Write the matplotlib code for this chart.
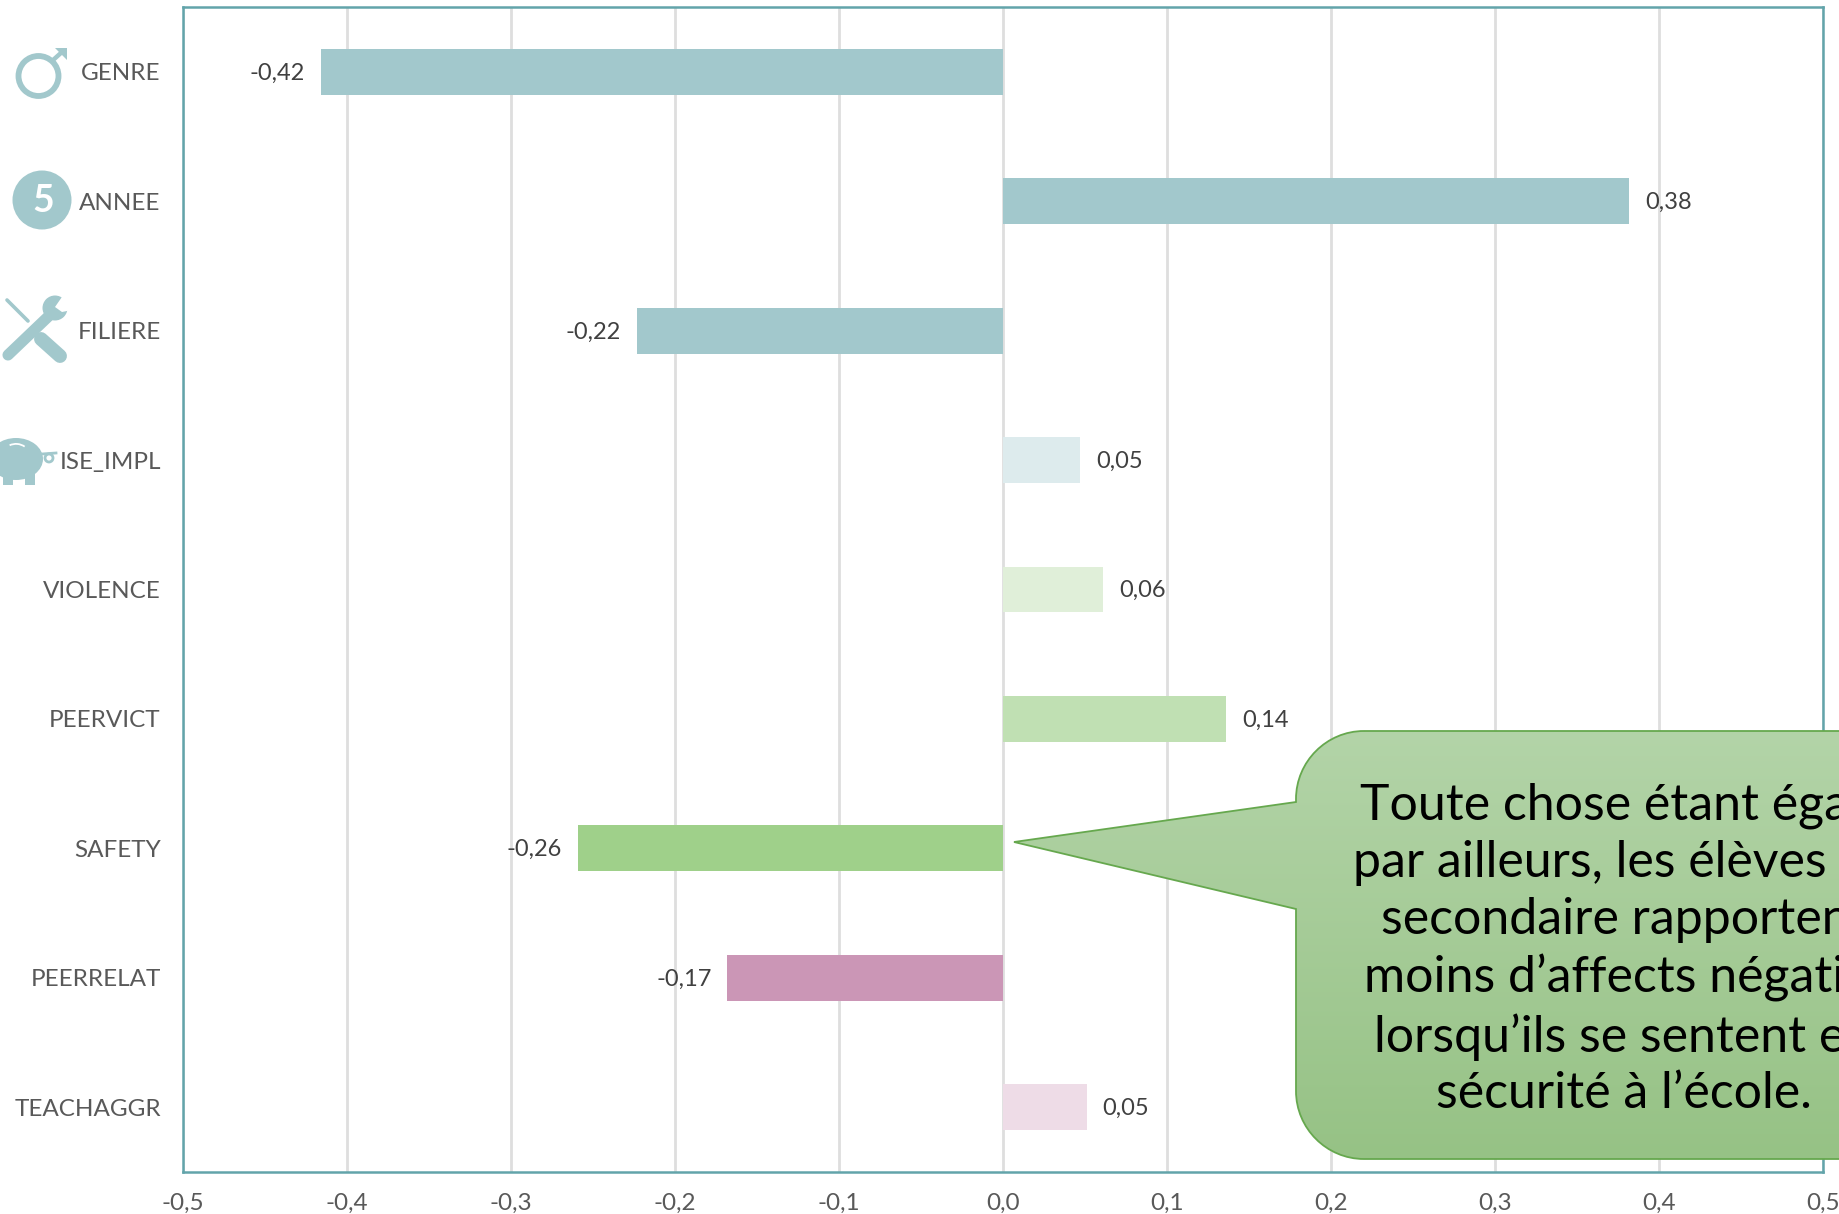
import numpy as np
import matplotlib
matplotlib.use("Agg")
import matplotlib.pyplot as plt
from matplotlib.patches import Circle, Ellipse, Polygon, PathPatch, Rectangle, Wedge
from matplotlib.path import Path

plt.rcParams["font.family"] = ["Lato", "DejaVu Sans"]

# data
categories = ["GENRE", "ANNEE", "FILIERE", "ISE_IMPL", "VIOLENCE",
              "PEERVICT", "SAFETY", "PEERRELAT", "TEACHAGGR"]
values = [-0.416, 0.382, -0.223, 0.047, 0.061, 0.136, -0.259, -0.168, 0.051]
value_labels = ["-0,42", "0,38", "-0,22", "0,05", "0,06", "0,14", "-0,26", "-0,17", "0,05"]
colors = ["#A2C8CC", "#A2C8CC", "#A2C8CC", "#DDEBED", "#E0EFD9",
          "#C0E0B3", "#9FD08A", "#CB96B6", "#EEDCE7"]
x_ticks = [-0.5, -0.4, -0.3, -0.2, -0.1, 0.0, 0.1, 0.2, 0.3, 0.4, 0.5]
x_tick_labels = ["-0,5", "-0,4", "-0,3", "-0,2", "-0,1", "0,0", "0,1", "0,2", "0,3", "0,4", "0,5"]
callout_text = ("Toute chose étant égale\npar ailleurs, les élèves du\nsecondaire rapportent\n"
                "moins d’affects négatifs\nlorsqu’ils se sentent en\nsécurité à l’école.")

W, H = 1839, 1214
ICON = "#A2C8CC"
TXT = "#595959"

fig = plt.figure(figsize=(W / 100, H / 100), dpi=100)
ax = fig.add_axes([183 / W, 1 - 1172 / H, (1823 - 183) / W, (1172 - 7) / H])

# bars
y = np.arange(len(categories))
ax.barh(y, values, height=0.355, color=colors, zorder=3)
ax.set_xlim(-0.5, 0.5)
ax.set_ylim(len(categories) - 0.5, -0.5)
ax.set_yticks(y)
ax.set_yticklabels(categories, fontsize=17.5, color=TXT)
ax.set_xticks(x_ticks)
ax.set_xticklabels(x_tick_labels, fontsize=17.5, color=TXT)
ax.tick_params(axis="both", length=0)
ax.tick_params(axis="y", pad=16)
ax.tick_params(axis="x", pad=15)
ax.grid(axis="x", color="#DEDEDE", linewidth=2, zorder=0)
ax.set_axisbelow(True)
for s in ax.spines.values():
    s.set_color("#62A4AA")
    s.set_linewidth(1.8)

for yi, v, lab in zip(y, values, value_labels):
    off = 0.0098 if v > 0 else -0.0098
    ax.text(v + off, yi + 0.01, lab, ha="left" if v > 0 else "right", va="center",
            fontsize=17, color="#404040", zorder=4)

# overlay in pixel coordinates for the icons and the callout
ov = fig.add_axes([0, 0, 1, 1], facecolor="none")
ov.set_xlim(0, W)
ov.set_ylim(H, 0)
ov.axis("off")

# male sign
ov.add_patch(Circle((38.5, 76), 20, fc="none", ec=ICON, lw=4.2))
ov.plot([52, 62], [61, 52], color=ICON, lw=3.2, solid_capstyle="butt")
ov.add_patch(Polygon([(55, 47.5), (67, 47.5), (67, 59.5)], fc=ICON, ec="none"))

# number 5
ov.add_patch(Circle((42, 200), 29.5, fc=ICON, ec="none"))
ov.text(43, 200.5, "5", color="white", fontsize=27, fontweight="bold", ha="center", va="center")

# tools
ov.plot([7, 28], [300, 321], color=ICON, lw=2.6, solid_capstyle="round")
ov.plot([41, 60], [339, 356], color=ICON, lw=10, solid_capstyle="round")
ov.plot([8, 52], [355, 313], color=ICON, lw=8, solid_capstyle="round")
ov.add_patch(Circle((55, 308), 12.5, fc=ICON, ec="none"))
ov.add_patch(Polygon([(55, 307), (64, 294), (72, 298), (72, 310), (62, 312)], fc="white", ec="none"))
ov.add_patch(Circle((8, 354), 2.2, fc="white", ec="none"))

# piggy bank
ov.add_patch(Ellipse((16, 459), 54, 42, fc=ICON, ec="none"))
ov.add_patch(Rectangle((3, 470), 10, 15, fc=ICON, ec="none"))
ov.add_patch(Rectangle((25, 470), 10, 15, fc=ICON, ec="none"))
ov.add_patch(Wedge((16, 459), 16, -115, -55, width=1.8, fc="white", ec="none"))
ov.add_patch(Circle((49, 458), 4, fc="none", ec=ICON, lw=2))
ov.plot([42, 56], [454, 453], color=ICON, lw=2)

# callout with a vertical gradient
l, t, b, r = 1296, 731, 1159, 1960
rad = 68
k = 0.55 * rad
verts = [(l + rad, t), (r, t), (r, b), (l + rad, b),
         (l + rad - k, b), (l, b - rad + k), (l, b - rad),
         (l, 909), (1014, 842), (l, 802), (l, t + rad),
         (l, t + rad - k), (l + rad - k, t), (l + rad, t), (l + rad, t)]
codes = [Path.MOVETO, Path.LINETO, Path.LINETO, Path.LINETO,
         Path.CURVE4, Path.CURVE4, Path.CURVE4,
         Path.LINETO, Path.LINETO, Path.LINETO, Path.LINETO,
         Path.CURVE4, Path.CURVE4, Path.CURVE4, Path.CLOSEPOLY]
path = Path(verts, codes)
grad = np.linspace(0, 1, 256).reshape(-1, 1)
top_c = np.array([0xB3, 0xD4, 0xA8]) / 255
bot_c = np.array([0x96, 0xC2, 0x85]) / 255
img = (top_c + (bot_c - top_c) * grad[..., None]).reshape(256, 1, 3)
im = ov.imshow(img, extent=(1000, 1960, b, t), aspect="auto", zorder=5)
outline = PathPatch(path, fc="none", ec="#66A84E", lw=1.3, zorder=6)
ov.add_patch(outline)
im.set_clip_path(outline)
ov.set_xlim(0, W)
ov.set_ylim(H, 0)

ov.text(1624, 950, callout_text, ha="center", va="center", fontsize=36,
        color="black", linespacing=1.29, zorder=7)

fig.savefig("out.png", dpi=100)
